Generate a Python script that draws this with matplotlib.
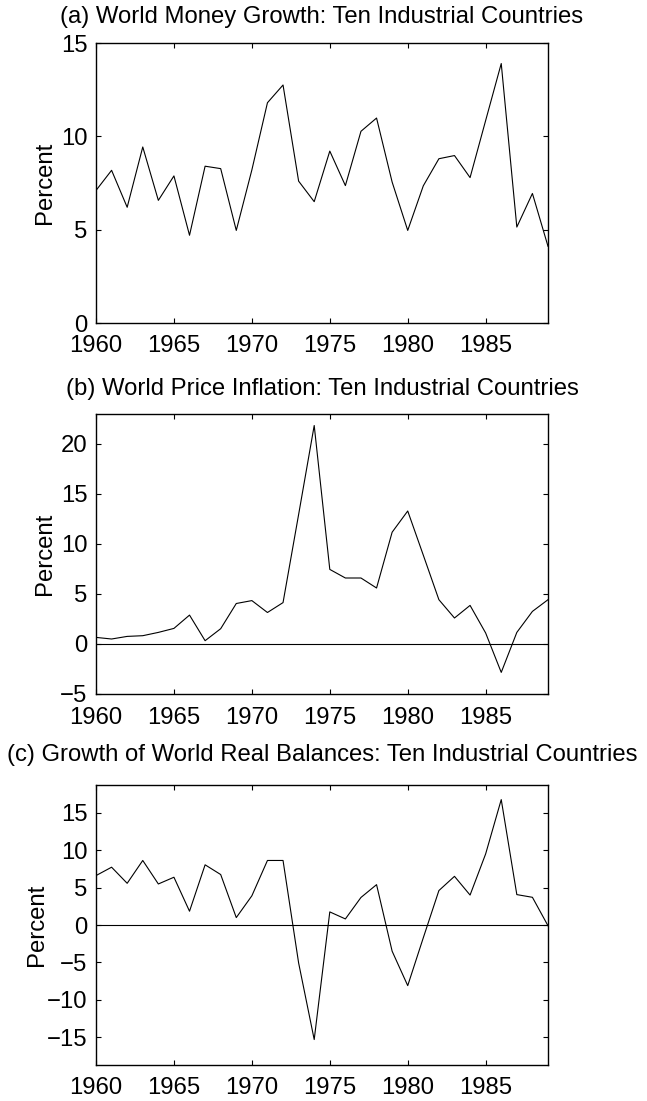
import matplotlib
matplotlib.use("Agg")
import matplotlib.pyplot as plt
import numpy as np

years = list(range(1960, 1990))
money_growth = [7.1, 8.18, 6.2, 9.43, 6.57, 7.88, 4.7, 8.4, 8.27, 4.96,
                8.2, 11.8, 12.75, 7.6, 6.5, 9.21, 7.36, 10.27, 10.98, 7.55,
                4.96, 7.35, 8.8, 8.97, 7.79, 10.85, 13.9, 5.14, 6.94, 4.11]
price_inflation = [0.66, 0.5, 0.76, 0.83, 1.16, 1.56, 2.89, 0.33, 1.53, 4.05,
                   4.34, 3.15, 4.14, 12.95, 21.85, 7.46, 6.6, 6.6, 5.6, 11.18,
                   13.3, 8.88, 4.43, 2.6, 3.86, 1.1, -2.84, 1.16, 3.26, 4.43]
real_balances = [6.6, 7.72, 5.57, 8.62, 5.48, 6.38, 1.84, 8.04, 6.74, 0.99,
                 3.9, 8.62, 8.62, -5.07, -15.3, 1.75, 0.81, 3.68, 5.39, -3.5,
                 -8.1, -1.7, 4.6, 6.5, 4.0, 9.5, 16.75, 4.06, 3.7, -0.1]

titles = ["(a) World Money Growth: Ten Industrial Countries",
          "(b) World Price Inflation: Ten Industrial Countries",
          "(c) Growth of World Real Balances: Ten Industrial Countries"]
xticks = [1960, 1965, 1970, 1975, 1980, 1985]
yticks_list = [[0, 5, 10, 15], [-5, 0, 5, 10, 15, 20], [-15, -10, -5, 0, 5, 10, 15]]
ylims = [(0, 15), (-5, 23), (-18.7, 18.7)]
zero_line = [False, True, True]
series = [money_growth, price_inflation, real_balances]

plt.rcParams['font.family'] = ['Liberation Sans', 'DejaVu Sans']
W, H = 647, 1101
fig = plt.figure(figsize=(W / 100, H / 100), dpi=100)

left, right = 96 / W, 548 / W
tops = [43, 414, 785]
height = 280
title_pad = [26, 25, 30]
label_x = [45, 45, 37]
fs = 17.2

for i in range(3):
    bottom = 1 - (tops[i] + height) / H
    ax = fig.add_axes([left, bottom, right - left, height / H])
    ax.plot(years, series[i], color='black', linewidth=0.8)
    if zero_line[i]:
        ax.axhline(0, color='black', linewidth=0.8)
    ax.set_xlim(1960, 1989)
    ax.set_ylim(*ylims[i])
    ax.set_xticks(xticks)
    ax.set_yticks(yticks_list[i])
    ax.set_yticklabels([str(t).replace('-', '\u2212') for t in yticks_list[i]])
    ax.tick_params(direction='in', length=3.5, width=0.8, top=True, right=True,
                   labelsize=fs)
    ax.tick_params(axis='y', pad=6)
    ax.tick_params(axis='x', pad=9)
    for s in ax.spines.values():
        s.set_linewidth(1.0)
    fig.text(0.5 * (left + right), 1 - (tops[i] - title_pad[i]) / H, titles[i],
             ha='center', va='center', fontsize=fs)
    fig.text(label_x[i] / W, 1 - (tops[i] + height / 2) / H, "Percent",
             ha='center', va='center', rotation=90, fontsize=fs)

fig.savefig("out.png", dpi=100)
